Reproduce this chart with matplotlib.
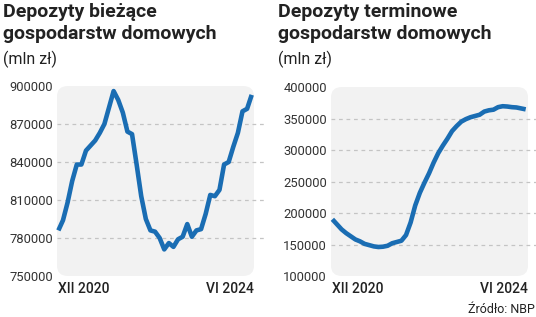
import matplotlib
matplotlib.use("Agg")
import matplotlib.pyplot as plt
from matplotlib.patches import FancyBboxPatch

# monthly data, XII 2020 .. VI 2024 (43 months), mln zl
biezace = [786000, 794000, 808000, 825000, 838000, 838000, 849000, 853000, 857000, 863000,
           870000, 883000, 896000, 889000, 879000, 864000, 862000, 838000, 813000, 795000,
           786000, 785000, 780000, 771000, 776000, 773000, 779000, 781000, 791000, 781000,
           786000, 787000, 799000, 814000, 813000, 818000, 838000, 840000, 852000, 863000,
           880000, 882000, 893000]
terminowe = [190000, 182000, 174000, 168000, 163000, 158000, 155000, 151000, 149000, 147000,
             146000, 146500, 148000, 152000, 154000, 156000, 165000, 185000, 212000, 232000,
             248000, 263000, 280000, 295000, 307000, 318000, 330000, 338000, 345000, 349000,
             352000, 354000, 356000, 361000, 363000, 364000, 368000, 369500, 369000, 368000,
             367500, 366000, 364500]
ticks_left = [750000, 780000, 810000, 840000, 870000, 900000]
ticks_right = [100000, 150000, 200000, 250000, 300000, 350000, 400000]
titles = ["Depozyty bieżące\ngospodarstw domowych", "Depozyty terminowe\ngospodarstw domowych"]
unit = "(mln zł)"
x_first, x_last = "XII 2020", "VI 2024"
source = "Źródło: NBP"

W, H = 536, 317
BLUE = "#1a6db3"
TXT = "#222222"
GRID = "#c4c4c4"
BG = "#f2f2f2"

fig = plt.figure(figsize=(W / 100, H / 100), dpi=100)
fig.patch.set_facecolor("white")


def px(x, y):
    return x / W, 1 - y / H


def panel(left, top, right, bottom, values, ticks, title, tx):
    ax = fig.add_axes([left / W, 1 - bottom / H, (right - left) / W, (bottom - top) / H])
    ax.set_facecolor("none")
    for s in ax.spines.values():
        s.set_visible(False)
    bg = FancyBboxPatch((0, 0), 1, 1, boxstyle="round,pad=0,rounding_size=0.055",
                        transform=ax.transAxes, facecolor=BG, edgecolor="none", zorder=0,
                        clip_on=False)
    ax.add_patch(bg)
    xs = list(range(len(values)))
    for t in ticks[1:-1]:
        ax.plot([0, 1.05], [t, t], transform=ax.get_yaxis_transform(), color=GRID,
                lw=0.9, ls=(0, (3, 3)), clip_on=False, zorder=1)
    ax.plot(xs, values, color=BLUE, lw=3.3, solid_joinstyle="round",
            solid_capstyle="butt", zorder=3, clip_on=False)
    ax.set_xlim(-0.3, len(values) - 0.5)
    ax.set_ylim(ticks[0], ticks[-1])
    ax.set_xticks([])
    ax.set_yticks(ticks)
    ax.set_yticklabels([str(t) for t in ticks], fontsize=9.4, family="Roboto", color="#333333")
    ax.tick_params(axis="y", length=0, pad=3)
    line1, line2 = title.split("\n")
    fig.text(*px(tx, 17), line1, fontsize=14, fontweight="bold",
             family="Roboto", color=TXT, va="baseline", ha="left")
    fig.text(*px(tx, 39), line2, fontsize=14, fontweight="bold",
             family="Roboto", color=TXT, va="baseline", ha="left")
    fig.text(*px(tx, 64), unit, fontsize=11.5, family="Roboto", color=TXT,
             va="baseline", ha="left")
    fig.text(*px(left + 1, 293), x_first, fontsize=10, fontweight="medium",
             family="Roboto", color=TXT, va="baseline", ha="left")
    fig.text(*px(right, 293), x_last, fontsize=10, fontweight="medium",
             family="Roboto", color=TXT, va="baseline", ha="right")
    return ax


panel(57, 86, 254, 276, biezace, ticks_left, titles[0], 3)
panel(331, 87, 528, 276, terminowe, ticks_right, titles[1], 278)

fig.text(*px(535, 313), source, fontsize=9, family="Roboto", color=TXT,
         va="baseline", ha="right")

fig.savefig("out.png", dpi=100)
